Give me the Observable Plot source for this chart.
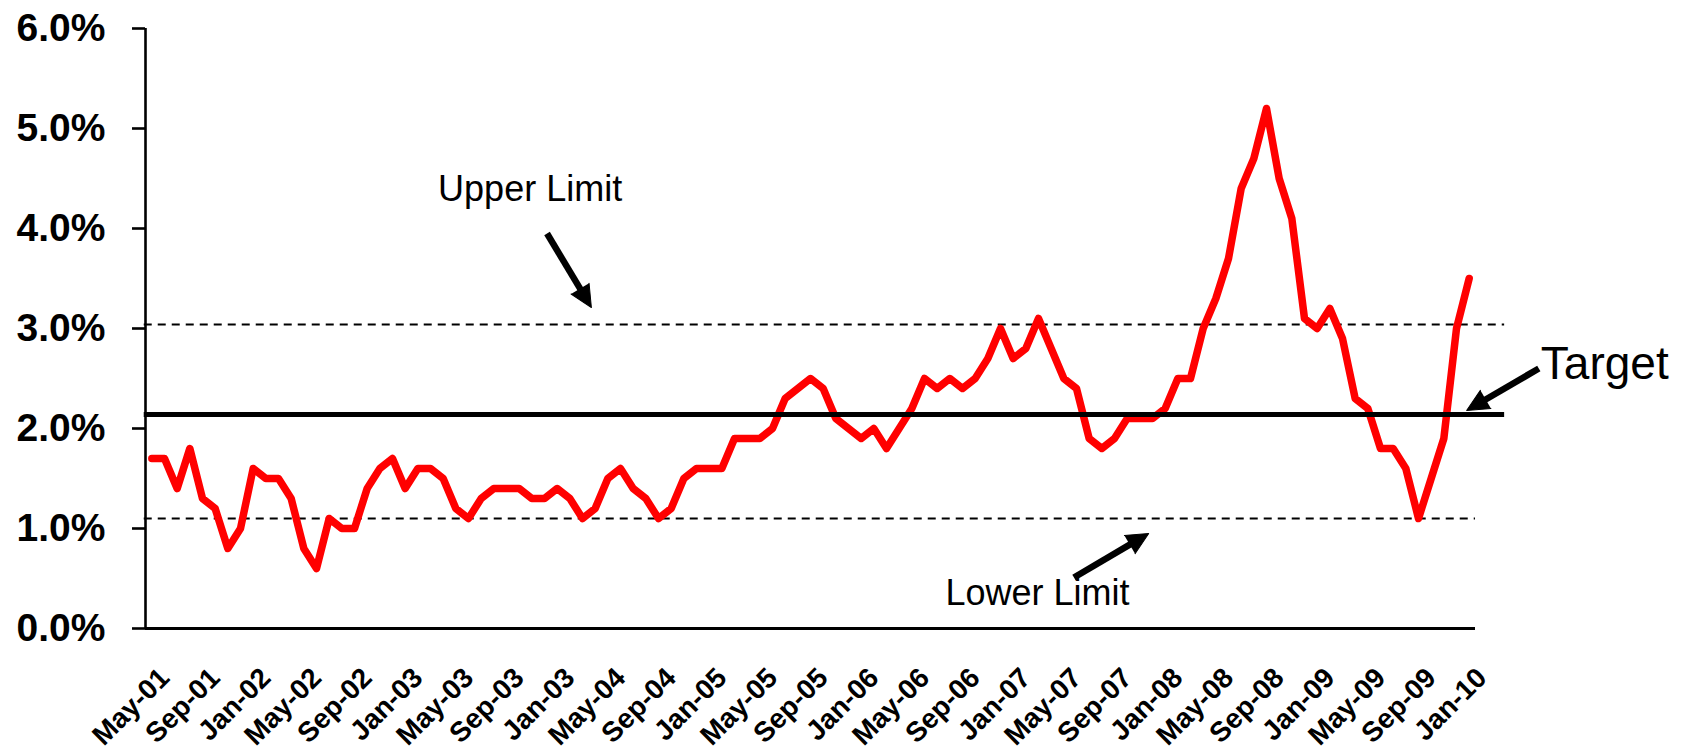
<!DOCTYPE html>
<html>
<head>
<meta charset="utf-8">
<script src="https://cdn.jsdelivr.net/npm/d3@7"></script>
<script src="https://cdn.jsdelivr.net/npm/@observablehq/plot@0.6"></script>
<style>
  html, body { margin: 0; padding: 0; background: #fff; }
  #chart svg { display: block; }
</style>
</head>
<body>
<div id="chart"></div>
<script>
// ---- data ----
const tickLabels = ["May-01","Sep-01","Jan-02","May-02","Sep-02","Jan-03","May-03","Sep-03","Jan-03",
  "May-04","Sep-04","Jan-05","May-05","Sep-05","Jan-06","May-06","Sep-06","Jan-07","May-07","Sep-07",
  "Jan-08","May-08","Sep-08","Jan-09","May-09","Sep-09","Jan-10"];
// monthly values, May-01 .. Jan-10 (percent)
const rates = [
  1.7,1.7,1.4,1.8,1.3,1.2,0.8,1.0,1.6,1.5,1.5,1.3,
  0.8,0.6,1.1,1.0,1.0,1.4,1.6,1.7,1.4,1.6,1.6,1.5,
  1.2,1.1,1.3,1.4,1.4,1.4,1.3,1.3,1.4,1.3,1.1,1.2,
  1.5,1.6,1.4,1.3,1.1,1.2,1.5,1.6,1.6,1.6,1.9,1.9,
  1.9,2.0,2.3,2.4,2.5,2.4,2.1,2.0,1.9,2.0,1.8,2.0,
  2.2,2.5,2.4,2.5,2.4,2.5,2.7,3.0,2.7,2.8,3.1,2.8,
  2.5,2.4,1.9,1.8,1.9,2.1,2.1,2.1,2.2,2.5,2.5,3.0,
  3.3,3.7,4.4,4.7,5.2,4.5,4.1,3.1,3.0,3.2,2.9,2.3,
  2.2,1.8,1.8,1.6,1.1,1.5,1.9,3.0,3.5
];
const yTicks = [0, 1, 2, 3, 4, 5, 6];
const upperLimit = 3.04;
const targetValue = 2.14;
const lowerLimit = 1.1;
// annotation anchors, in data units (month index, percent)
const limitNotes = [
  {text: "Upper Limit", x: 22.6, y: 4.395},
  {text: "Lower Limit", x: 62.66, y: 0.355}
];
const targetNotes = [{text: "Target", x: 109.66, y: 2.644}];
const arrowNotes = [
  {x1: 31.2, y1: 3.95, x2: 34.7, y2: 3.21},
  {x1: 72.8, y1: 0.51, x2: 78.7, y2: 0.95},
  {x1: 109.5, y1: 2.60, x2: 103.8, y2: 2.18}
];

// ---- layout ----
const W = 1699, H = 750;
const mL = 145, mR = 224, mT = 28, mB = 122;
const xDomain = [-0.5, rates.length - 0.5];
const yDomain = [0, 6];
const font = "'Liberation Sans', Arial, Helvetica, sans-serif";

// replicate the plot's linear scales to orient arrow heads in screen space
const xs = d3.scaleLinear(xDomain, [mL, W - mR]);
const ys = d3.scaleLinear(yDomain, [H - mB, mT]);
const headLen = 22;
const arrows = arrowNotes.map(a => {
  const dx = xs(a.x2) - xs(a.x1), dy = ys(a.y2) - ys(a.y1);
  const len = Math.hypot(dx, dy);
  const f = (len - headLen + 3) / len;
  return {
    ...a,
    xb: a.x1 + (a.x2 - a.x1) * f,
    yb: a.y1 + (a.y2 - a.y1) * f,
    angle: Math.atan2(dx, -dy) * 180 / Math.PI
  };
});

const rateData = rates.map((v, i) => ({i, v}));
const tickIdx = tickLabels.map((_, k) => k * 4);

const chart = Plot.plot({
  width: W,
  height: H,
  marginLeft: mL,
  marginRight: mR,
  marginTop: mT,
  marginBottom: mB,
  x: {type: "linear", domain: xDomain},
  y: {type: "linear", domain: yDomain},
  style: {fontFamily: font, background: "#fff", color: "#000", overflow: "visible"},
  marks: [
    // reference lines
    Plot.ruleY([upperLimit], {x1: -0.6, x2: 106.8, stroke: "#000", strokeWidth: 1.8, strokeDasharray: "8,6"}),
    Plot.ruleY([lowerLimit], {x1: -0.6, x2: 104.5, stroke: "#000", strokeWidth: 1.8, strokeDasharray: "8,6"}),
    // axes
    Plot.axisY({
      ticks: yTicks,
      tickFormat: d => d.toFixed(1) + "%",
      tickSize: 13,
      tickPadding: 27,
      fontSize: 39,
      fontWeight: "bold",
      strokeWidth: 2.6,
      label: null
    }),
    Plot.axisX({
      ticks: tickIdx,
      tickFormat: d => tickLabels[Math.round(d / 4)],
      tickRotate: -45,
      tickSize: 0,
      tickPadding: 37,
      textAnchor: "end",
      lineAnchor: "top",
      dx: 5,
      fontSize: 28,
      fontWeight: "bold",
      label: null
    }),
    Plot.ruleX([xDomain[0]], {y1: 0, y2: 6, stroke: "#000", strokeWidth: 2.6}),
    Plot.ruleY([0], {x1: xDomain[0], x2: xDomain[1], stroke: "#000", strokeWidth: 2.8}),
    // data line
    Plot.line(rateData, {x: "i", y: "v", stroke: "#ff0000", strokeWidth: 7.5, strokeLinejoin: "round", strokeLinecap: "round"}),
    // target line (drawn over the series, as in the reference)
    Plot.ruleY([targetValue], {x1: -0.6, x2: 106.8, stroke: "#000", strokeWidth: 5}),
    // annotations
    Plot.text(limitNotes, {x: "x", y: "y", text: "text", textAnchor: "start", lineAnchor: "middle", fontSize: 36, fill: "#000"}),
    Plot.text(targetNotes, {x: "x", y: "y", text: "text", textAnchor: "start", lineAnchor: "middle", fontSize: 46, fill: "#000"}),
    Plot.link(arrows, {x1: "x1", y1: "y1", x2: "xb", y2: "yb", stroke: "#000", strokeWidth: 6.5, strokeLinecap: "butt"}),
    Plot.vector(arrows, {x: "x2", y: "y2", rotate: "angle", length: headLen, anchor: "end", shape: "spike", r: 10.5, fill: "#000", stroke: "#000", strokeWidth: 1})
  ]
});

document.getElementById("chart").appendChild(chart);
</script>
</body>
</html>
